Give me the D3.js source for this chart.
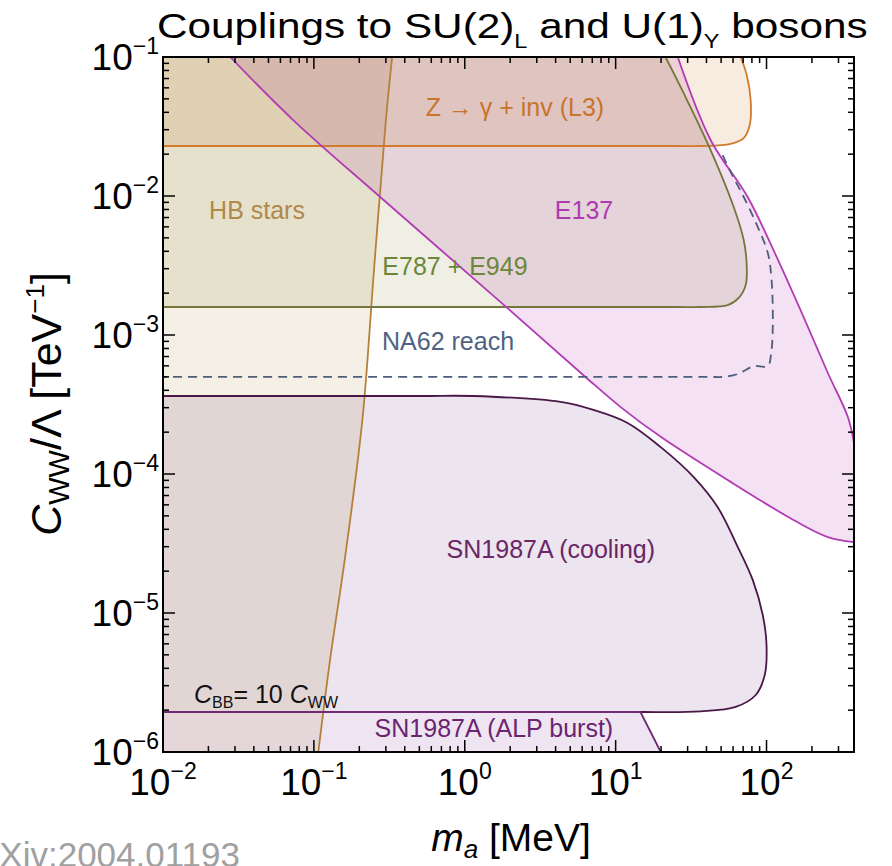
<!DOCTYPE html>
<html>
<head>
<meta charset="utf-8">
<script src="https://cdn.jsdelivr.net/npm/d3@7"></script>
<style>
	body { margin: 0; background: #fff; }
	svg { display: block; font-family: "Liberation Sans", Arial, sans-serif; }
</style>
</head>
<body>
<svg id="chart" width="892" height="866"></svg>
<script>
// axes
var massRange = [0.01, 380];          // m_a [MeV]
var couplingRange = [1e-6, 0.1];      // C_WW / Lambda [TeV^-1]
var xExponents = [-2, -1, 0, 1, 2];
var yExponents = [-6, -5, -4, -3, -2, -1];

// boundaries, [m_a, C_WW/Lambda]
var hbEdge = [[0.33, 0.1], [0.30, 3.5e-2], [0.25, 2.9e-3], [0.21, 2.5e-4], [0.16, 2.4e-5], [0.128, 4.6e-6], [0.107, 1e-6]];
var l3Edge = [[0.01, 0.0229], [25, 0.0229], [36.6, 0.0229], [57.8, 0.0237], [70.6, 0.0261], [77.4, 0.0324], [78.5, 0.0491], [73.9, 0.0742], [67.4, 0.1]];
var e787Edge = [[0.01, 1.59e-3], [25, 1.59e-3], [36.6, 1.59e-3], [55.3, 1.64e-3], [65.4, 1.85e-3], [72.8, 2.29e-3], [73.9, 3.19e-3], [70.6, 4.82e-3], [60.6, 8.33e-3], [42.6, 0.0214], [28.2, 0.0551], [21.4, 0.1]];
var e137Lower = [[0.0279, 0.1], [0.0729, 0.0352], [0.275, 9.84e-3], [1.92, 1.56e-3], [6.31, 4.99e-4], [10.8, 3.03e-4], [19.9, 1.85e-4], [55.3, 9.05e-5], [151, 4.67e-5], [255, 3.52e-5], [380, 3.24e-5]];
var e137Upper = [[25.8, 0.1], [42.6, 0.0253], [75.0, 9.84e-3], [115, 3.77e-3], [177, 1.33e-3], [255, 5.33e-4], [346, 2.57e-4], [380, 1.67e-4]];
var na62Edge = [[51.2, 0.0197], [57.8, 0.0149], [70.6, 9.84e-3], [87.5, 5.98e-3], [102, 3.89e-3], [108, 2.49e-3], [110, 1.14e-3], [107, 7.18e-4], [102, 5.98e-4], [82.2, 5.98e-4], [72.8, 5.6e-4], [64.4, 5.24e-4], [52.0, 5.0e-4], [40, 5.0e-4], [0.01, 5.0e-4]];
var coolingEdge = [[0.01, 3.64e-4], [0.5, 3.64e-4], [1.14, 3.64e-4], [4.31, 3.3e-4], [7.13, 2.89e-4], [12.0, 2.33e-4], [19.9, 1.56e-4], [32.9, 9.51e-5], [47.4, 5.79e-5], [64.4, 2.99e-5], [81.0, 1.73e-5], [94.4, 9.68e-6], [100, 5.89e-6], [97.3, 3.58e-6], [84.8, 2.57e-6], [62.5, 2.11e-6], [36.6, 1.96e-6], [14.6, 1.94e-6], [8, 1.94e-6], [0.01, 1.94e-6]];
var burstEdge = [[0.01, 1.94e-6], [14.6, 1.94e-6], [19.9, 1e-6]];

// labels inside the plot, [m_a, C] = baseline centre
var labels = [
	{ text: "Z \u2192 \u03b3 + inv (L3)", at: [2.15, 0.0377], color: "#c8742c" },
	{ text: "HB stars", at: [0.042, 6.84e-3], color: "#b0884a" },
	{ text: "E137", at: [6.17, 6.84e-3], color: "#b03ab2" },
	{ text: "E787 + E949", at: [0.861, 2.7e-3], color: "#6b873b" },
	{ text: "NA62 reach", at: [0.775, 7.8e-4], color: "#4e6384" },
	{ text: "SN1987A (cooling)", at: [3.72, 2.49e-5], color: "#6a2666" },
	{ text: "SN1987A (ALP burst)", at: [1.56, 1.28e-6], color: "#6a2470" }
];

var svg = d3.select("#chart");
var x = d3.scaleLog().domain(massRange).range([163, 854]);
var y = d3.scaleLog().domain(couplingRange).range([752, 57]);
var xmin = massRange[0], xmax = massRange[1], ymin = couplingRange[0], ymax = couplingRange[1];

var smooth = d3.line().x(function(d){ return x(d[0]); }).y(function(d){ return y(d[1]); })
	.curve(d3.curveCatmullRom.alpha(0.5));
var straight = d3.line().x(function(d){ return x(d[0]); }).y(function(d){ return y(d[1]); });
function corners(pts){
	return pts.map(function(p){ return "L" + x(p[0]) + "," + y(p[1]); }).join("");
}

svg.append("defs").append("clipPath").attr("id", "plotClip")
	.append("rect").attr("x", 163).attr("y", 57).attr("width", 691).attr("height", 695);

var plot = svg.append("g").attr("clip-path", "url(#plotClip)").style("isolation", "isolate");
plot.append("rect").attr("x", 163).attr("y", 57).attr("width", 691).attr("height", 695).attr("fill", "#fff");

// filled regions, multiplied on top of each other
var fills = [
	{ d: smooth(hbEdge) + corners([[xmin, ymin], [xmin, ymax]]) + "Z", fill: "#f5f0e5" },
	{ d: smooth(l3Edge) + corners([[xmin, ymax]]) + "Z", fill: "#f8ece1" },
	{ d: smooth(e787Edge) + corners([[xmin, ymax]]) + "Z", fill: "#f0efe4" },
	{ d: smooth(e137Lower) + smooth(e137Upper.slice().reverse()).replace(/^M/, "L") + "Z", fill: "#f4e2f4" },
	{ d: smooth(coolingEdge) + "Z", fill: "#ece4ee" },
	{ d: straight(burstEdge) + corners([[xmin, ymin]]) + "Z", fill: "#efe5f2" }
];
plot.selectAll("path.fill").data(fills).enter().append("path")
	.attr("class", "fill")
	.attr("d", function(d){ return d.d; })
	.attr("fill", function(d){ return d.fill; })
	.style("mix-blend-mode", "multiply");

var lines = [
	{ pts: hbEdge, color: "#b5803a" },
	{ pts: l3Edge, color: "#d27b2c" },
	{ pts: e787Edge, color: "#74763c" },
	{ pts: e137Lower, color: "#b23cb4" },
	{ pts: e137Upper, color: "#b23cb4" },
	{ pts: coolingEdge, color: "#4a1848" },
	{ pts: burstEdge, color: "#6e2a72", sharp: true },
	{ pts: na62Edge, color: "#4f5d7c", dash: "9,6" }
];
plot.selectAll("path.edge").data(lines).enter().append("path")
	.attr("class", "edge")
	.attr("d", function(d){ return d.sharp ? straight(d.pts) : smooth(d.pts); })
	.attr("fill", "none")
	.attr("stroke", function(d){ return d.color; })
	.attr("stroke-width", 1.8)
	.attr("stroke-dasharray", function(d){ return d.dash || null; });

// region labels
svg.selectAll("text.region").data(labels).enter().append("text")
	.attr("class", "region")
	.attr("x", function(d){ return x(d.at[0]); })
	.attr("y", function(d){ return y(d.at[1]); })
	.attr("text-anchor", "middle")
	.attr("font-size", 25)
	.attr("fill", function(d){ return d.color; })
	.text(function(d){ return d.text; });

// C_BB = 10 C_WW
var cbb = svg.append("text").attr("x", 194).attr("y", 703).attr("font-size", 25).attr("fill", "#111");
cbb.append("tspan").attr("font-style", "italic").text("C");
cbb.append("tspan").attr("font-size", 16).attr("dy", 5).text("BB");
cbb.append("tspan").attr("dy", -5).text("= 10 ");
cbb.append("tspan").attr("font-style", "italic").text("C");
cbb.append("tspan").attr("font-size", 16).attr("dy", 5).text("WW");

// frame and ticks
var frame = svg.append("g").attr("stroke", "#000");
frame.append("rect").attr("x", 163).attr("y", 57).attr("width", 691).attr("height", 695)
	.attr("fill", "none").attr("stroke-width", 2);

function logTicks(lo, hi){
	var out = [];
	for (var k = Math.floor(Math.log10(lo)); k <= Math.ceil(Math.log10(hi)); k++) {
		for (var j = 1; j <= 9; j++) {
			var v = j * Math.pow(10, k);
			if (v >= lo * 0.999 && v <= hi * 1.001) out.push({ v: v, major: j === 1 });
		}
	}
	return out;
}
logTicks(xmin, xmax).forEach(function(t){
	var len = t.major ? 12 : 6, px = x(t.v);
	frame.append("line").attr("x1", px).attr("x2", px).attr("y1", 752).attr("y2", 752 - len).attr("stroke-width", 1.5);
	frame.append("line").attr("x1", px).attr("x2", px).attr("y1", 57).attr("y2", 57 + len).attr("stroke-width", 1.5);
});
logTicks(ymin, ymax).forEach(function(t){
	var len = t.major ? 12 : 6, py = y(t.v);
	frame.append("line").attr("y1", py).attr("y2", py).attr("x1", 163).attr("x2", 163 + len).attr("stroke-width", 1.5);
	frame.append("line").attr("y1", py).attr("y2", py).attr("x1", 854).attr("x2", 854 - len).attr("stroke-width", 1.5);
});

function powLabel(sel, e){
	sel.append("tspan").text("10");
	sel.append("tspan").attr("font-size", 23).attr("dy", -16).text(e < 0 ? "\u2212" + (-e) : String(e));
}
xExponents.forEach(function(e){
	var t = svg.append("text").attr("x", x(Math.pow(10, e))).attr("y", 795)
		.attr("text-anchor", "middle").attr("font-size", 37).attr("fill", "#000");
	powLabel(t, e);
});
yExponents.forEach(function(e){
	var t = svg.append("text").attr("x", 159).attr("y", y(Math.pow(10, e)) + 13)
		.attr("text-anchor", "end").attr("font-size", 37).attr("fill", "#000");
	powLabel(t, e);
});

// axis titles
var xt = svg.append("text").attr("x", 511).attr("y", 851).attr("text-anchor", "middle").attr("font-size", 39);
xt.append("tspan").attr("font-style", "italic").text("m");
xt.append("tspan").attr("font-style", "italic").attr("font-size", 26).attr("dy", 7).text("a");
xt.append("tspan").attr("dy", -7).text(" [MeV]");

var yt = svg.append("text").attr("transform", "translate(61,404) rotate(-90)")
	.attr("text-anchor", "middle").attr("font-size", 43);
yt.append("tspan").attr("font-style", "italic").text("C");
yt.append("tspan").attr("font-size", 29).attr("dy", 8).text("WW");
yt.append("tspan").attr("dy", -8).text("/\u039b [TeV");
yt.append("tspan").attr("font-size", 26).attr("dy", -17).text("\u22121");
yt.append("tspan").attr("dy", 17).text("]");

// title, squeezed to the width it has in the figure
var title = svg.append("text").attr("x", 0).attr("y", 0).attr("font-size", 36).attr("fill", "#000");
title.append("tspan").text("Couplings to SU(2)");
title.append("tspan").attr("font-size", 20).attr("dy", 10).text("L");
title.append("tspan").attr("dy", -10).text(" and U(1)");
title.append("tspan").attr("font-size", 20).attr("dy", 10).text("Y");
title.append("tspan").attr("dy", -10).text(" bosons");
var tw = title.node().getBBox().width;
title.attr("transform", "translate(157,38) scale(" + (711 / tw) + ",1)");

// arXiv stamp, cut at the page edges as in the figure
svg.append("text").attr("x", 240).attr("y", 867).attr("text-anchor", "end")
	.attr("font-size", 35).attr("fill", "#a0a0a0").text("arXiv:2004.01193");
</script>
</body>
</html>
